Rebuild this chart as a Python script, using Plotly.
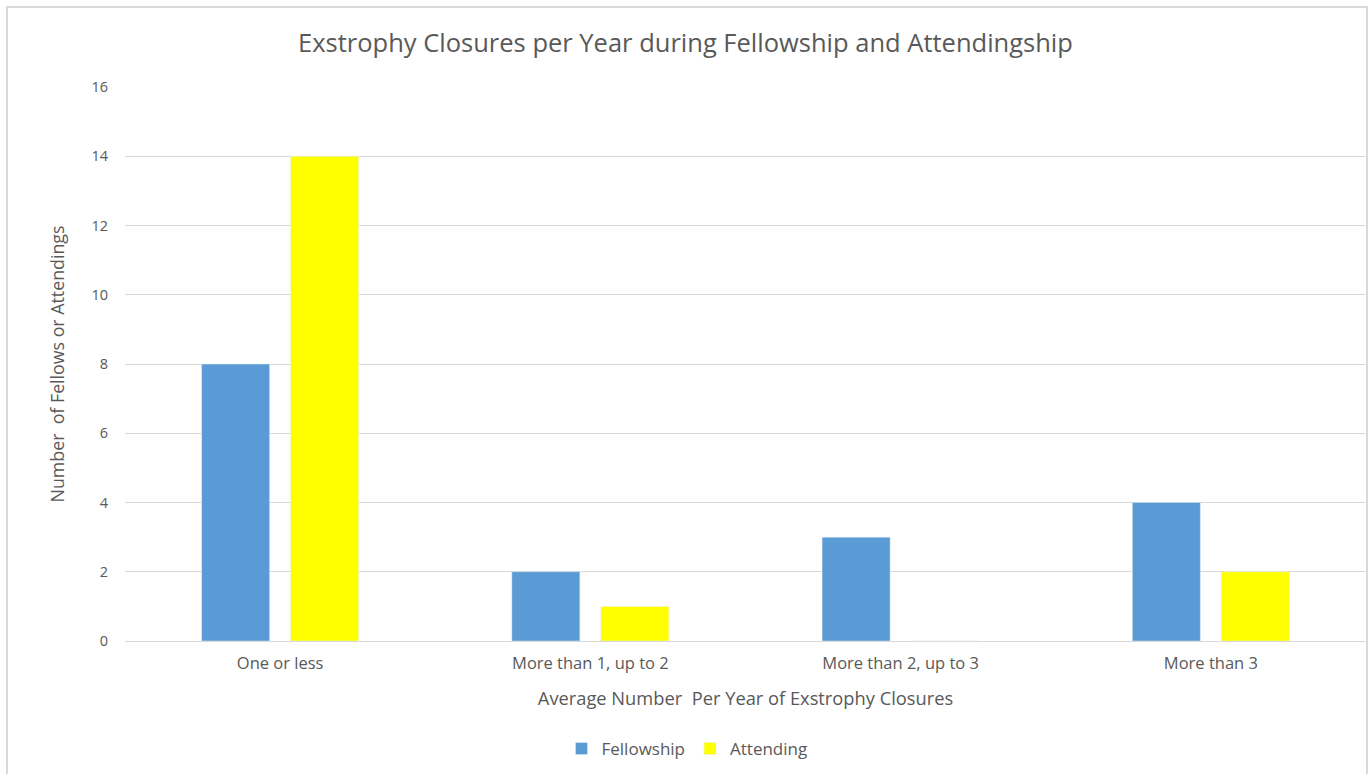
import plotly.graph_objects as go

categories = ["One or less", "More than 1, up to 2", "More than 2, up to 3", "More than 3"]
fellowship = [8, 2, 3, 4]
attending = [14, 1, 0, 2]
y_ticks = [0, 2, 4, 6, 8, 10, 12, 14, 16]

W, H = 1371, 774
L, R, T, B = 125, 5, 87, 133
pw, ph = W - L - R, H - T - B

font_fam = "Open Sans, Segoe UI, sans-serif"
grey = "#595959"

fig = go.Figure()
fig.add_trace(go.Bar(name="Fellowship", x=categories, y=fellowship, marker_color="#5B9BD5"))
fig.add_trace(go.Bar(name="Attending", x=categories, y=attending, marker_color="#FFFF00"))

def px_x(p):
    return (p - L) / pw

def px_y(p):
    return (H - B - p) / ph

fig.update_layout(
    width=W, height=H,
    margin=dict(l=L, r=R, t=T, b=B),
    paper_bgcolor="white", plot_bgcolor="white",
    barmode="group", bargap=0.426, bargroupgap=0.236,
    title=dict(text="Exstrophy Closures per Year during Fellowship and Attendingship",
               x=0.5, xanchor="center", y=1 - 43 / H, yanchor="middle",
               font=dict(family=font_fam, size=25.5, color=grey)),
    font=dict(family=font_fam, color=grey),
    xaxis=dict(showgrid=False, showline=True, linecolor="#d9d9d9", linewidth=1,
               ticks="", tickfont=dict(size=16.5, color=grey), ticklabelstandoff=7,
               title=dict(text="Average Number&nbsp; Per Year of Exstrophy Closures",
                          font=dict(size=18.3, color=grey), standoff=19)),
    yaxis=dict(range=[0, 16], tickvals=y_ticks, showgrid=True, gridcolor="#d9d9d9",
               gridwidth=1, zeroline=False, showline=False, ticks="",
               tickfont=dict(size=14.5, color=grey), ticklabelstandoff=16,
               title=dict(text="Number&nbsp; of Fellows or Attendings",
                          font=dict(size=17.8, color=grey), standoff=22)),
    legend=dict(orientation="h", x=px_x(687), xanchor="center", y=px_y(749), yanchor="middle",
                font=dict(size=17, color=grey), itemwidth=30, traceorder="normal"),
    shapes=[dict(type="rect", xref="paper", yref="paper",
                 x0=px_x(7), x1=px_x(1367), y0=px_y(790), y1=px_y(7),
                 line=dict(color="#d9d9d9", width=2), fillcolor="rgba(0,0,0,0)", layer="below")],
)

fig.write_html("out.html")
